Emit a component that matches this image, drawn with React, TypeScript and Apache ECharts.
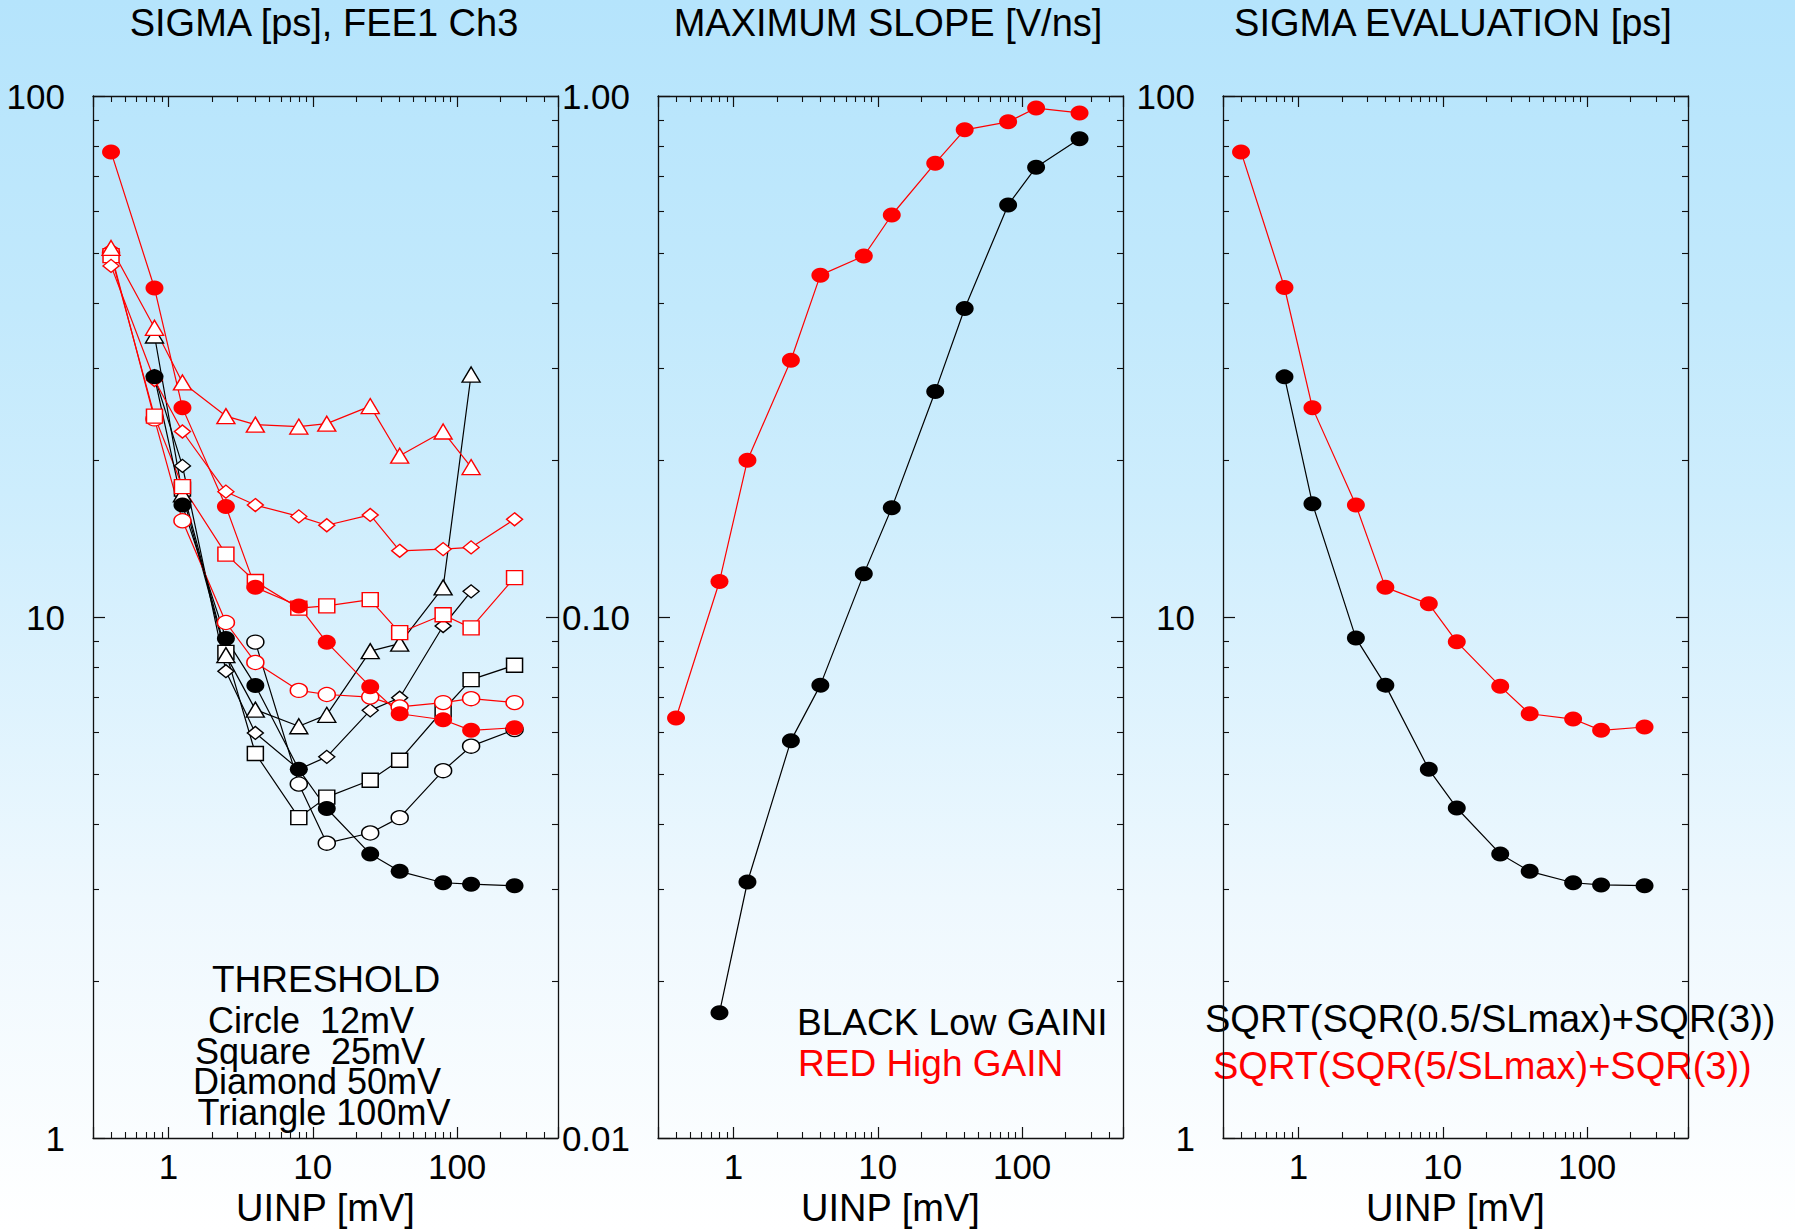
import React, { useEffect, useRef } from 'react';
import * as echarts from 'echarts';

// ---------- data ----------
const UINP = [0.4, 0.8, 1.25, 2.5, 4, 8, 12.5, 25, 40, 80, 125, 250];

// Panel 1: SIGMA [ps] for thresholds (open symbols) and evaluation (filled)
const SIGMA_BLACK_CIRCLE = [null, null, null, null, 8.95, 4.78, 3.68, 3.85, 4.12, 5.07, 5.65, 6.08];
const SIGMA_BLACK_SQUARE = [null, null, 17.6, 8.55, 5.47, 4.12, 4.51, 4.86, 5.31, 6.63, 7.58, 8.08];
const SIGMA_BLACK_DIAMOND = [null, 29, 19.5, 7.87, 5.99, 5.1, 5.39, 6.62, 7.0, 9.61, 11.2, null];
const SIGMA_BLACK_TRIANGLE = [null, 34.7, 17.2, 8.45, 6.64, 6.17, 6.49, 8.6, 8.89, 11.4, 29.2, null];
const SIGMA_RED_CIRCLE = [50, 24, 15.3, 9.76, 8.18, 7.23, 7.1, 7.02, 6.72, 6.85, 6.97, 6.85];
const SIGMA_RED_SQUARE = [49.4, 24.3, 17.8, 13.2, 11.7, 10.4, 10.5, 10.8, 9.33, 10.1, 9.53, 11.9];
const SIGMA_RED_DIAMOND = [47.2, 28.5, 22.7, 17.4, 16.4, 15.6, 15.0, 15.7, 13.4, 13.5, 13.6, 15.4];
const SIGMA_RED_TRIANGLE = [51.1, 35.9, 28.2, 24.3, 23.4, 23.2, 23.5, 25.4, 20.4, 22.7, 19.4, null];
const SIGMA_BLACK_FILLED = [null, 28.9, 16.4, 9.09, 7.39, 5.1, 4.29, 3.51, 3.25, 3.09, 3.07, 3.05];
const SIGMA_RED_FILLED = [78.1, 42.8, 25.2, 16.3, 11.4, 10.5, 8.94, 7.35, 6.52, 6.35, 6.06, 6.13];

// Panel 2: MAXIMUM SLOPE [V/ns]
const SLOPE_BLACK = [null, 0.0174, 0.031, 0.0579, 0.074, 0.121, 0.162, 0.271, 0.391, 0.618, 0.73, 0.828];
const SLOPE_RED = [0.064, 0.117, 0.2, 0.311, 0.453, 0.493, 0.591, 0.743, 0.861, 0.892, 0.948, 0.928];

// Panel 3: SIGMA EVALUATION [ps]
const EVAL_BLACK = [null, 28.9, 16.5, 9.11, 7.4, 5.1, 4.3, 3.51, 3.25, 3.09, 3.06, 3.05];
const EVAL_RED = [78.1, 42.9, 25.2, 16.4, 11.4, 10.6, 8.96, 7.36, 6.52, 6.37, 6.06, 6.15];

// ---------- texts ----------
const PANEL_TITLES = ['SIGMA [ps], FEE1 Ch3', 'MAXIMUM SLOPE [V/ns]', 'SIGMA EVALUATION [ps]'];
const X_NAME = 'UINP [mV]';
const X_RANGE = [0.3, 500];
const Y_RANGES = [[1, 100], [0.01, 1], [1, 100]];
const THRESHOLD_LINES = ['THRESHOLD', 'Circle  12mV', 'Square  25mV', 'Diamond 50mV', 'Triangle 100mV'];
const GAIN_LINES = ['BLACK Low GAINI', 'RED High GAIN'];
const EVAL_LINES = ['SQRT(SQR(0.5/SLmax)+SQR(3))', 'SQRT(SQR(5/SLmax)+SQR(3))'];

// ---------- layout / style ----------
const FONT = '"Liberation Sans", Arial, Helvetica, sans-serif';
const RED = '#ff0000';
const BLACK = '#000000';
const GRID_LEFTS = [93, 658, 1223];
const GRID_TOP = 96;
const GRID_W = 465;
const GRID_H = 1042;
const TITLE_X = [324, 888, 1453];

function pairs(ys: (number | null)[]) {
  return UINP.map((x, i) => [x, ys[i]]).filter((p) => p[1] != null);
}

function isDecade(v: number) {
  const l = Math.log10(v);
  return Math.abs(l - Math.round(l)) < 1e-6;
}

const AXIS_LINE = { show: true, onZero: false, lineStyle: { color: '#111', width: 1.3 } };
const AXIS_TICK = { show: true, inside: true, length: 11, lineStyle: { color: '#111', width: 1.2 } };
const MINOR_TICK = { show: true, splitNumber: 9, length: 6, lineStyle: { color: '#111', width: 1.1 } };

function xAxes(grid: number) {
  const base = {
    type: 'log',
    logBase: 10,
    gridIndex: grid,
    min: X_RANGE[0],
    max: X_RANGE[1],
    axisLine: AXIS_LINE,
    axisTick: AXIS_TICK,
    minorTick: MINOR_TICK,
    splitLine: { show: false },
    minorSplitLine: { show: false },
  };
  return [
    {
      ...base,
      position: 'bottom',
      axisLabel: {
        show: true,
        margin: 11,
        color: '#000',
        fontSize: 35,
        fontFamily: FONT,
        showMinLabel: false,
        showMaxLabel: false,
        formatter: (v: number) => (isDecade(v) ? String(Math.round(v)) : ''),
      },
      name: X_NAME,
      nameLocation: 'middle',
      nameGap: 51,
      nameTextStyle: { color: '#000', fontSize: 38, fontFamily: FONT },
    },
    { ...base, position: 'top', axisLabel: { show: false } },
  ];
}

function yAxes(grid: number) {
  const [min, max] = Y_RANGES[grid];
  const base = {
    type: 'log',
    logBase: 10,
    gridIndex: grid,
    min,
    max,
    axisLine: AXIS_LINE,
    axisTick: { ...AXIS_TICK, length: 12 },
    minorTick: MINOR_TICK,
    splitLine: { show: false },
    minorSplitLine: { show: false },
  };
  return [
    {
      ...base,
      position: 'left',
      axisLabel: {
        show: true,
        margin: 28,
        color: '#000',
        fontSize: 35,
        fontFamily: FONT,
        formatter: (v: number) => {
          if (!isDecade(v)) return '';
          return grid === 1 ? v.toFixed(2) : String(Math.round(v));
        },
      },
    },
    { ...base, position: 'right', axisLabel: { show: false } },
  ];
}

function line(
  grid: number,
  ys: (number | null)[],
  symbol: string,
  size: number[],
  color: string,
  filled: boolean
) {
  return {
    type: 'line',
    xAxisIndex: grid * 2,
    yAxisIndex: grid * 2,
    data: pairs(ys),
    symbol,
    symbolSize: size,
    showSymbol: true,
    showAllSymbol: true,
    clip: false,
    silent: true,
    lineStyle: { color, width: 1.2 },
    itemStyle: {
      color: filled ? color : '#ffffff',
      borderColor: color,
      borderWidth: filled ? 0 : 1.4,
    },
    emphasis: { disabled: true },
  };
}

const CIRCLE_OPEN = [17, 14];
const SQUARE = [16, 14];
const DIAMOND = [16, 13];
const TRIANGLE = [18, 15];
const FILLED = [18, 15];

function txt(text: string, x: number, y: number, color: string, align: string, size = 37) {
  return {
    type: 'text',
    x,
    y,
    silent: true,
    style: {
      text,
      fill: color,
      font: `${size}px ${FONT}`,
      textAlign: align,
      align,
      textVerticalAlign: 'middle',
      verticalAlign: 'middle',
    },
  };
}

export default function App() {
  const ref = useRef<HTMLDivElement>(null);

  useEffect(() => {
    if (!ref.current) return;
    const chart = echarts.init(ref.current, null, { renderer: 'svg' });

    const series = [
      // panel 1: black open, red open, then filled on top
      line(0, SIGMA_BLACK_CIRCLE, 'circle', CIRCLE_OPEN, BLACK, false),
      line(0, SIGMA_BLACK_SQUARE, 'rect', SQUARE, BLACK, false),
      line(0, SIGMA_BLACK_DIAMOND, 'diamond', DIAMOND, BLACK, false),
      line(0, SIGMA_BLACK_TRIANGLE, 'triangle', TRIANGLE, BLACK, false),
      line(0, SIGMA_RED_CIRCLE, 'circle', CIRCLE_OPEN, RED, false),
      line(0, SIGMA_RED_SQUARE, 'rect', SQUARE, RED, false),
      line(0, SIGMA_RED_DIAMOND, 'diamond', DIAMOND, RED, false),
      line(0, SIGMA_RED_TRIANGLE, 'triangle', TRIANGLE, RED, false),
      line(0, SIGMA_BLACK_FILLED, 'circle', FILLED, BLACK, true),
      line(0, SIGMA_RED_FILLED, 'circle', FILLED, RED, true),
      // panel 2
      line(1, SLOPE_BLACK, 'circle', FILLED, BLACK, true),
      line(1, SLOPE_RED, 'circle', FILLED, RED, true),
      // panel 3
      line(2, EVAL_BLACK, 'circle', FILLED, BLACK, true),
      line(2, EVAL_RED, 'circle', FILLED, RED, true),
    ];

    const graphic = [
      ...PANEL_TITLES.map((t, i) => txt(t, TITLE_X[i], 23, '#000', 'center', 38)),
      txt(THRESHOLD_LINES[0], 326, 979, '#000', 'center'),
      txt(THRESHOLD_LINES[1], 311, 1020, '#000', 'center', 36),
      txt(THRESHOLD_LINES[2], 310, 1051, '#000', 'center', 36),
      txt(THRESHOLD_LINES[3], 317, 1081, '#000', 'center', 36),
      txt(THRESHOLD_LINES[4], 324, 1112, '#000', 'center', 36),
      txt(GAIN_LINES[0], 797, 1022, BLACK, 'left'),
      txt(GAIN_LINES[1], 798, 1063, RED, 'left'),
      txt(EVAL_LINES[0], 1205, 1019, BLACK, 'left', 38),
      txt(EVAL_LINES[1], 1213, 1066, RED, 'left', 38),
    ];

    chart.setOption({
      animation: false,
      backgroundColor: 'transparent',
      grid: GRID_LEFTS.map((left) => ({
        left,
        top: GRID_TOP,
        width: GRID_W,
        height: GRID_H,
        containLabel: false,
        outerBoundsMode: 'none',
      })),
      xAxis: [0, 1, 2].flatMap((g) => xAxes(g)),
      yAxis: [0, 1, 2].flatMap((g) => yAxes(g)),
      series,
      graphic,
    } as any);

    return () => chart.dispose();
  }, []);

  return (
    <div
      ref={ref}
      style={{
        position: 'absolute',
        left: 0,
        top: 0,
        width: 1795,
        height: 1230,
        background:
          'linear-gradient(to bottom, #b5e4fc 0%, #c2e9fc 25%, #cdedfd 40%, #eef8fe 73%, #ffffff 100%)',
      }}
    />
  );
}
